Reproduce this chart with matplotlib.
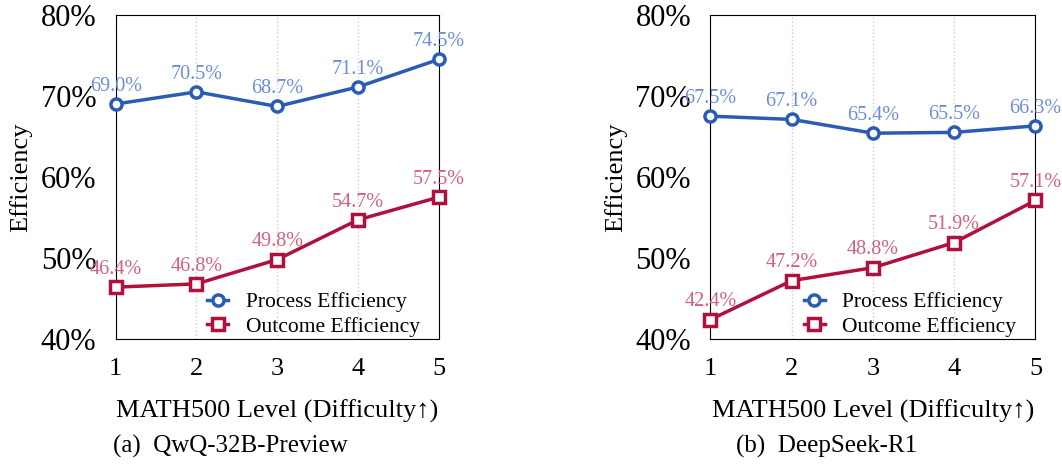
import numpy as np
import matplotlib
matplotlib.use("Agg")
import matplotlib.pyplot as plt

plt.rcParams['font.family'] = ['Liberation Serif', 'DejaVu Serif']

levels = [1, 2, 3, 4, 5]
qwq_process = [69.0, 70.5, 68.7, 71.1, 74.5]
qwq_outcome = [46.4, 46.8, 49.8, 54.7, 57.5]
ds_process = [67.5, 67.1, 65.4, 65.5, 66.3]
ds_outcome = [42.4, 47.2, 48.8, 51.9, 57.1]
yticks = [40, 50, 60, 70, 80]
captions = ["(a)  QwQ-32B-Preview", "(b)  DeepSeek-R1"]
caption_x = [0.217, 0.778]

blue = '#2a5cb3'
red = '#b2103c'
blue_txt = '#6b8fd4'
red_txt = '#d4607c'

fig = plt.figure(figsize=(10.62, 4.65), dpi=100)
ax1 = fig.add_axes([0.109, 0.271, 0.304, 0.697])
ax2 = fig.add_axes([0.669, 0.271, 0.306, 0.697])

panels = [(ax1, qwq_process, qwq_outcome), (ax2, ds_process, ds_outcome)]
for i, (ax, proc, outc) in enumerate(panels):
    ax.plot(levels, proc, color=blue, lw=2.5, marker='o', ms=8, mfc='white',
            mec=blue, mew=2.5, label='Process Efficiency', clip_on=False, zorder=3)
    ax.plot(levels, outc, color=red, lw=2.5, marker='s', ms=8, mfc='white',
            mec=red, mew=2.5, label='Outcome Efficiency', clip_on=False, zorder=3)
    for x, v in zip(levels, proc):
        ax.annotate(f"{v:.1f}%", (x, v), xytext=(0, 6), textcoords='offset points',
                    ha='center', va='bottom', color=blue_txt, fontsize=14.5)
    for x, v in zip(levels, outc):
        ax.annotate(f"{v:.1f}%", (x, v), xytext=(0, 6), textcoords='offset points',
                    ha='center', va='bottom', color=red_txt, fontsize=14.5)
    ax.set_xlim(1, 5)
    ax.set_ylim(40, 80)
    ax.set_xticks(levels)
    ax.set_yticks(yticks)
    ax.set_yticklabels([f"{t}%" for t in yticks])
    ax.tick_params(axis='y', length=0, labelsize=22, pad=14)
    ax.tick_params(axis='x', length=0, labelsize=19, pad=14)
    ax.grid(axis='x', color='#cccccc', linestyle=':', lw=1)
    ax.set_axisbelow(True)
    ax.set_ylabel("Efficiency", fontsize=19, labelpad=6)
    ax.set_xlabel("MATH500 Level (Difficulty\u2191)", fontsize=19, labelpad=14)
    ax.legend(loc='lower right', frameon=False, fontsize=15.5, handlelength=1.0,
              handletextpad=0.8, labelspacing=0.2, borderaxespad=0.0,
              bbox_to_anchor=(0.968, -0.02))
    fig.text(caption_x[i], 0.039, captions[i], ha='center', va='center', fontsize=18)

fig.savefig("out.png", dpi=100)
